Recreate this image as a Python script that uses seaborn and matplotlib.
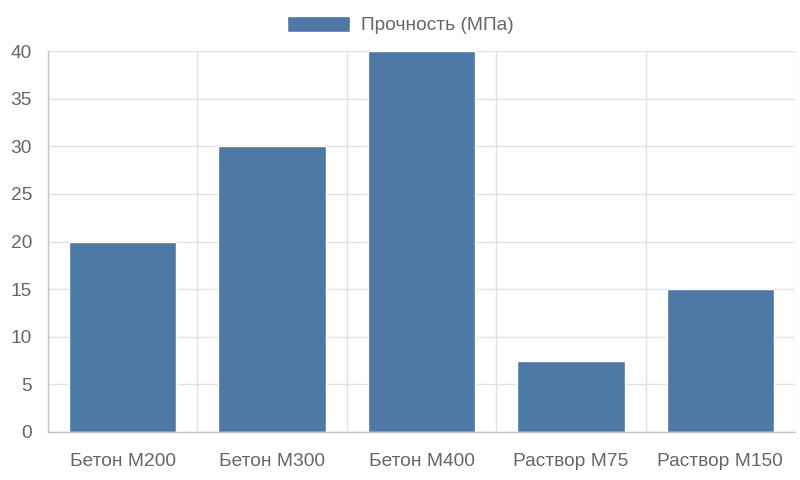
import numpy as np
import seaborn as sns
import matplotlib.pyplot as plt
from matplotlib.ticker import FixedLocator, MultipleLocator

# data
categories = ["Бетон М200", "Бетон М300", "Бетон М400", "Раствор М75", "Раствор М150"]
strength = [20, 30, 40, 7.5, 15]
series_label = "Прочность (МПа)"

bar_color = "#4e78a6"
text_color = "#666666"
grid_color = "#e2e2e2"
axis_color = "#c4c4c4"
font_size = 13.8

sns.set_style("white")
plt.rcParams["font.family"] = ["Liberation Sans", "DejaVu Sans"]

fig = plt.figure(figsize=(8, 4.8), dpi=100)
ax = fig.add_axes([48 / 800, 48 / 480, (795 - 48) / 800, (432 - 51) / 480])

sns.barplot(x=categories, y=strength, color=bar_color, width=0.72,
            saturation=1, label=series_label, ax=ax, zorder=3)

ax.set_xlim(-0.5, len(categories) - 0.5)
ax.set_ylim(0, 40)
ax.yaxis.set_major_locator(MultipleLocator(5))
ax.xaxis.set_minor_locator(FixedLocator(np.arange(len(categories) + 1) - 0.5))

# grid: horizontal at value ticks, vertical at category borders
ax.grid(True, axis="y", which="major", color=grid_color, linewidth=1, zorder=0)
ax.grid(True, axis="x", which="minor", color=grid_color, linewidth=1, zorder=0)
ax.set_axisbelow(True)

ax.tick_params(axis="y", length=8.5, width=1, color=grid_color, pad=3,
               labelsize=font_size, labelcolor=text_color)
ax.tick_params(axis="x", which="major", length=0, pad=15,
               labelsize=font_size, labelcolor=text_color)
ax.tick_params(axis="x", which="minor", length=11, width=1, color=grid_color)

for side in ["top", "right"]:
    ax.spines[side].set_visible(False)
for side in ["left", "bottom"]:
    ax.spines[side].set_color(axis_color)
    ax.spines[side].set_linewidth(1)
    ax.spines[side].set_zorder(4)

ax.set_xlabel("")
ax.set_ylabel("")

handles, labels = ax.get_legend_handles_labels()
if ax.get_legend() is not None:
    ax.get_legend().remove()
fig.legend(handles[:1], labels[:1], loc="center", bbox_to_anchor=(0.5, 1 - 25 / 480),
           frameon=False, fontsize=font_size, labelcolor=text_color,
           handlelength=3.3, handleheight=0.95, handletextpad=0.55)

plt.savefig("out.png", dpi=100)
